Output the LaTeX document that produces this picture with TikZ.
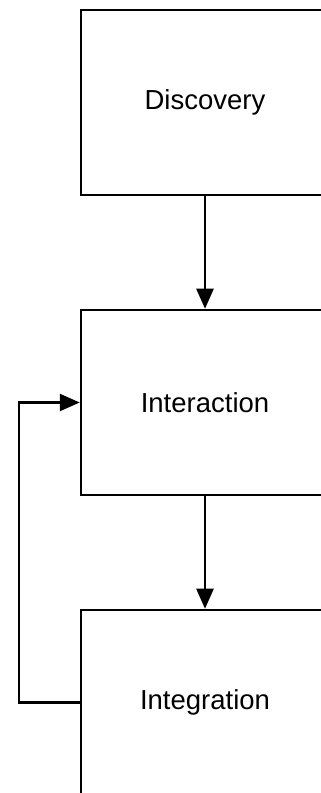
\documentclass[tikz,border=0pt]{standalone}
\usepackage{fontspec}
\setmainfont{Liberation Sans}
\usetikzlibrary{arrows.meta}

\tikzset{
    stage/.style={draw, line width=2.5pt, minimum width=248pt, minimum height=185pt,
        font=\fontsize{27.5}{32}\selectfont},
    flow/.style={line width=2.5pt, -{Triangle[length=20pt,width=17pt]}}
}

\begin{document}
\begin{tikzpicture}[x=1pt,y=1pt]
            \useasboundingbox (0,0) rectangle (321,793);
            \clip (0,0) rectangle (321,793);
            \node[stage] (disc) at (205,690.5) {Discovery};
            \node[stage] (inter) at (205,390.5) {Interaction};
            \node[stage] (integ) at (205,90.5) {Integration};
            \draw[flow] (disc.south) -- (inter.north);
            \draw[flow] (inter.south) -- (integ.north);
            \draw[flow] (integ.west) -- ++(-61,0) |- (inter.west);
        \end{tikzpicture}
\end{document}
